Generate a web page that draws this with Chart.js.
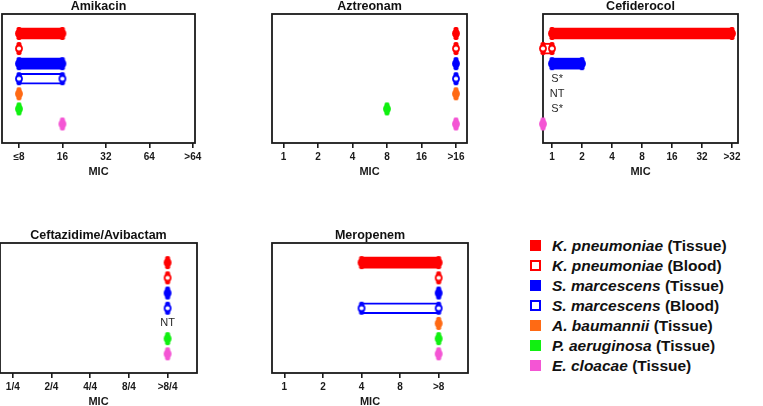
<!DOCTYPE html>
<html>
<head>
<meta charset="utf-8">
<script src="https://cdn.jsdelivr.net/npm/chart.js@4/dist/chart.umd.min.js"></script>
<style>
  body { margin: 0; background: #fff; width: 763px; height: 406px; overflow: hidden; position: relative; font-family: "Liberation Sans", Arial, sans-serif; }
  canvas { position: absolute; }
  .legend { position: absolute; left: 530px; top: 240px; }
  .legend .row { position: relative; height: 20px; }
  .legend .sw { position: absolute; left: 0; top: 0; width: 11px; height: 11px; box-sizing: border-box; }
  .legend .txt { position: absolute; left: 22px; top: -3px; font-size: 15.5px; font-weight: bold; color: #111; white-space: nowrap; line-height: 17px; }
</style>
</head>
<body>
<canvas id="amikacin" width="223" height="184"></canvas>
<canvas id="aztreonam" width="226" height="184"></canvas>
<canvas id="cefiderocol" width="225" height="184"></canvas>
<canvas id="ceftazidime" width="227" height="185"></canvas>
<canvas id="meropenem" width="226" height="185"></canvas>
<div class="legend" id="legend"></div>

<script>
// species (rows, top to bottom)
const speciesNames = ['K. pneumoniae', 'K. pneumoniae', 'S. marcescens', 'S. marcescens', 'A. baumannii', 'P. aeruginosa', 'E. cloacae'];
const speciesSource = ['Tissue', 'Blood', 'Tissue', 'Blood', 'Tissue', 'Tissue', 'Tissue'];
const speciesColors = ['#ff0000', '#ff0000', '#0000ff', '#0000ff', '#ff6a14', '#11f011', '#f455d4'];
const speciesOpen = [false, true, false, true, false, false, false];

// MIC ranges, given as position in each panel's tick list: [low, high], null = no bar
const amikacinTicks = ['≤8', '16', '32', '64', '>64'];
const amikacinMIC = [[0, 1], [0, 0], [0, 1], [0, 1], [0, 0], [0, 0], [1, 1]];

const aztreonamTicks = ['1', '2', '4', '8', '16', '>16'];
const aztreonamMIC = [[5, 5], [5, 5], [5, 5], [5, 5], [5, 5], [3, 3], [5, 5]];

const cefiderocolTicks = ['1', '2', '4', '8', '16', '32', '>32'];
const cefiderocolMIC = [[0, 6], [-0.3, 0], [0, 1], null, null, null, [-0.3, -0.3]];
const cefiderocolNotes = [null, null, null, 'S*', 'NT', 'S*', null];

const ceftazidimeTicks = ['1/4', '2/4', '4/4', '8/4', '>8/4'];
const ceftazidimeMIC = [[4, 4], [4, 4], [4, 4], [4, 4], null, [4, 4], [4, 4]];
const ceftazidimeNotes = [null, null, null, null, 'NT', null, null];

const meropenemTicks = ['1', '2', '4', '8', '>8'];
const meropenemMIC = [[2, 4], [4, 4], [4, 4], [2, 4], [4, 4], [4, 4], [4, 4]];

Chart.defaults.font.family = '"Liberation Sans", Arial, sans-serif';
Chart.defaults.color = '#222';

// little capsule marker used at the ends of each range
function makeMarker(color, open) {
    const c = document.createElement('canvas');
    c.width = 10;
    c.height = 15;
    const g = c.getContext('2d');
    g.fillStyle = color;
    g.beginPath();
    g.roundRect(2.5, 1, 5, 13, 1.8);
    g.fill();
    g.beginPath();
    g.arc(5, 7.5, 3.9, 0, Math.PI * 2);
    g.fill();
    if (open) {
        g.fillStyle = '#fff';
        g.beginPath();
        g.arc(5, 7.5, 2.1, 0, Math.PI * 2);
        g.fill();
    }
    return c;
}
const markers = speciesColors.map((c, i) => makeMarker(c, speciesOpen[i]));

// frame around the plot area
const boxPlugin = {
    id: 'box',
    beforeDatasetsDraw(chart) {
        const { left, top, right, bottom } = chart.chartArea;
        const ctx = chart.ctx;
        ctx.save();
        ctx.strokeStyle = '#1a1a1a';
        ctx.lineWidth = 1.8;
        ctx.strokeRect(left, top, right - left, bottom - top);
        ctx.restore();
    }
};

// S*, NT text notes
const notesPlugin = {
    id: 'notes',
    afterDatasetsDraw(chart, args, opts) {
        if (!opts.labels) return;
        const ctx = chart.ctx;
        ctx.save();
        ctx.font = '11px "Liberation Sans", Arial, sans-serif';
        ctx.fillStyle = '#2a2a2a';
        ctx.textAlign = 'center';
        ctx.textBaseline = 'middle';
        opts.labels.forEach((t, i) => {
            if (!t) return;
            ctx.fillText(t, chart.scales.x.getPixelForValue(opts.at), chart.scales.y.getPixelForValue(i));
        });
        ctx.restore();
    }
};

function makePanel(id, title, ticks, mic, box, xMin, xMax, notes, noteAt) {
    const el = document.getElementById(id);
    el.style.left = (box[0] - 15) + 'px';
    el.style.top = (box[1] - 17) + 'px';
    el.width = box[2] - box[0] + 30;
    el.height = box[3] - box[1] + 17 + 36 + 2;

    const bars = [], barColors = [], barFills = [], barBorders = [];
    const points = [], pointStyles = [];
    mic.forEach((r, i) => {
        if (!r) return;
        if (r[0] !== r[1]) {
            bars.push({ x: r, y: i });
            barColors.push(speciesColors[i]);
            barFills.push(speciesOpen[i] ? '#fff' : speciesColors[i]);
            barBorders.push(speciesOpen[i] ? 2 : 0);
        }
        points.push({ x: r[0], y: i });
        pointStyles.push(markers[i]);
        if (r[1] !== r[0]) {
            points.push({ x: r[1], y: i });
            pointStyles.push(markers[i]);
        }
    });

    return new Chart(el, {
        type: 'bar',
        data: {
            datasets: [
                {
                    type: 'scatter',
                    data: points,
                    pointStyle: pointStyles,
                    pointRadius: 5,
                    clip: false,
                    order: 0
                },
                {
                    data: bars,
                    backgroundColor: barFills,
                    borderColor: barColors,
                    borderWidth: barBorders,
                    borderSkipped: false,
                    barThickness: 11,
                    order: 1
                }
            ]
        },
        options: {
            indexAxis: 'y',
            responsive: false,
            animation: false,
            devicePixelRatio: 1,
            events: [],
            layout: { padding: { left: 15, right: 15, top: 0, bottom: 2 } },
            plugins: {
                legend: { display: false },
                tooltip: { enabled: false },
                title: {
                    display: true,
                    text: title,
                    color: '#111',
                    font: { size: 12.5, weight: 'bold', lineHeight: 1.1 },
                    padding: { top: 3, bottom: 0.25 }
                },
                notes: { labels: notes, at: noteAt }
            },
            scales: {
                x: {
                    type: 'linear',
                    min: xMin,
                    max: xMax,
                    afterBuildTicks: s => { s.ticks = ticks.map((t, i) => ({ value: i })); },
                    afterFit: s => { s.height = 36; s.paddingLeft = 0; s.paddingRight = 0; },
                    ticks: {
                        callback: (v, i) => ticks[i],
                        font: { size: 10, weight: 'bold' },
                        color: '#1a1a1a',
                        padding: 3,
                        autoSkip: false,
                        maxRotation: 0
                    },
                    grid: { drawOnChartArea: false, drawTicks: true, tickLength: 5, color: '#1a1a1a', lineWidth: 1.6 },
                    border: { display: false },
                    title: { display: true, text: 'MIC', color: '#1a1a1a', font: { size: 11, weight: 'bold' }, padding: 0 }
                },
                y: { type: 'linear', reverse: true, min: -0.68, max: 6.65, display: false }
            }
        },
        plugins: [boxPlugin, notesPlugin]
    });
}

document.addEventListener('DOMContentLoaded', () => {
    makePanel('amikacin', 'Amikacin', amikacinTicks, amikacinMIC, [2, 14, 195, 143], -0.39, 4.05);
    makePanel('aztreonam', 'Aztreonam', aztreonamTicks, aztreonamMIC, [272, 14, 467, 143], -0.335, 5.32);
    makePanel('cefiderocol', 'Cefiderocol', cefiderocolTicks, cefiderocolMIC, [543, 14, 738, 143], -0.3, 6.2, cefiderocolNotes, 0.17);
    makePanel('ceftazidime', 'Ceftazidime/Avibactam', ceftazidimeTicks, ceftazidimeMIC, [0, 243, 197, 373], -0.33, 4.76, ceftazidimeNotes, 4);
    makePanel('meropenem', 'Meropenem', meropenemTicks, meropenemMIC, [272, 243, 468, 373], -0.32, 4.76);

    // legend
    const legend = document.getElementById('legend');
    speciesNames.forEach((name, i) => {
        const row = document.createElement('div');
        row.className = 'row';
        const sw = speciesOpen[i]
            ? `background:#fff;border:2px solid ${speciesColors[i]}`
            : `background:${speciesColors[i]}`;
        row.innerHTML = `
            <div class="sw" style="${sw}"></div>
            <div class="txt"><i>${name}</i> (${speciesSource[i]})</div>
        `;
        legend.append(row);
    });
});
</script>
</body>
</html>
